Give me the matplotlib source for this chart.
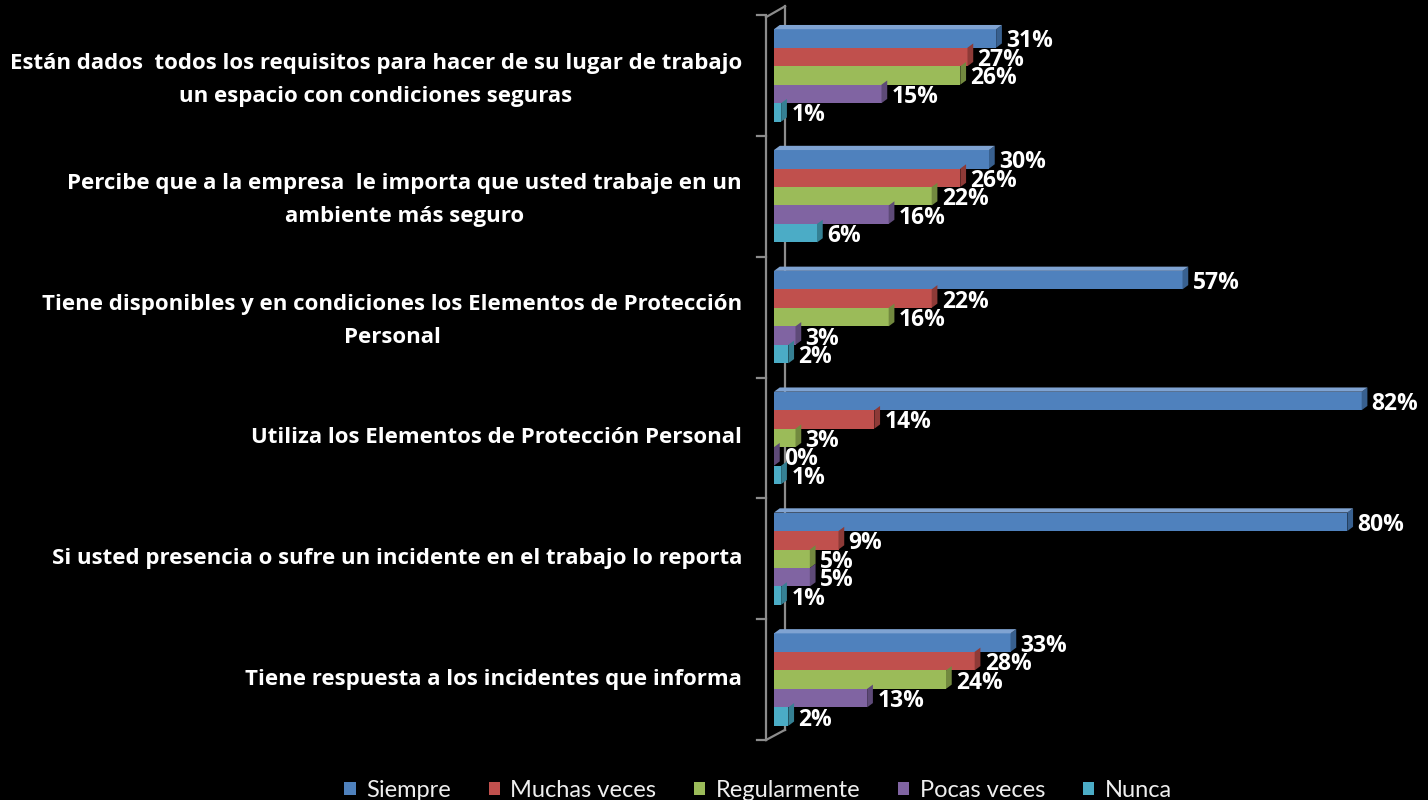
import numpy as np
import matplotlib.pyplot as plt
from matplotlib.patches import Polygon, Patch
import matplotlib.transforms as mtransforms

plt.rcParams['font.family'] = ['Open Sans', 'DejaVu Sans']

categories = [
    "Están dados  todos los requisitos para hacer de su lugar de trabajo\nun espacio con condiciones seguras",
    "Percibe que a la empresa  le importa que usted trabaje en un\nambiente más seguro",
    "Tiene disponibles y en condiciones los Elementos de Protección\nPersonal",
    "Utiliza los Elementos de Protección Personal",
    "Si usted presencia o sufre un incidente en el trabajo lo reporta",
    "Tiene respuesta a los incidentes que informa",
]
series = ["Siempre", "Muchas veces", "Regularmente", "Pocas veces", "Nunca"]
siempre = [31, 30, 57, 82, 80, 33]
muchas = [27, 26, 22, 14, 9, 28]
regular = [26, 22, 16, 3, 5, 24]
pocas = [15, 16, 3, 0, 5, 13]
nunca = [1, 6, 2, 1, 1, 2]
values = [siempre, muchas, regular, pocas, nunca]

colors = ['#4F81BD', '#C0504D', '#9BBB59', '#8064A2', '#4BACC6']
sides = ['#38608F', '#8E3A37', '#72893F', '#5E4A78', '#358093']
tops = ['#7FA3D2', '#D6827F', '#B9D287', '#A38DBF', '#7FC6D9']

fig = plt.figure(figsize=(14.28, 8), dpi=100, facecolor='black')
ax = fig.add_axes([774 / 1428, 60 / 800, 645 / 1428, 725 / 800])
ax.set_facecolor('black')
ax.set_xlim(0, 90)
ax.set_ylim(5.5, -0.5)
ax.axis('off')

h = 0.153
dx = 0.8
dy = 0.035
for j, vals in enumerate(values):
    for i, v in enumerate(vals):
        yc = i + (j - 2) * h
        ytop = yc - h / 2
        ybot = yc + h / 2
        ax.barh(yc, v, height=h, color=colors[j], edgecolor='none', zorder=2)
        # right face
        ax.add_patch(Polygon([(v, ytop), (v, ybot), (v + dx, ybot - dy), (v + dx, ytop - dy)],
                             closed=True, facecolor=sides[j], edgecolor='none', zorder=3))
        if j == 0:
            ax.add_patch(Polygon([(0, ytop), (v, ytop), (v + dx, ytop - dy), (dx, ytop - dy)],
                                 closed=True, facecolor=tops[j], edgecolor='none', zorder=3))
        ax.text(v + dx + 0.6, yc + 0.025, f"{v}%", color='white', fontsize=16.5,
                fontweight='bold', va='center', ha='left', zorder=5)

# wall lines
trans = mtransforms.blended_transform_factory(ax.transAxes, ax.transAxes)
grey = '#8C8C8C'
x_front = -8 / 645
x_back = 11 / 645
ax.plot([x_front, x_front], [0.0, 0.997], color=grey, lw=1.6, transform=trans, clip_on=False)
ax.plot([x_back, x_back], [0.014, 1.012], color=grey, lw=1.6, transform=trans, clip_on=False, zorder=1)
ax.plot([x_front, x_back], [0.997, 1.012], color=grey, lw=1.6, transform=trans, clip_on=False)
ax.plot([x_front, x_back], [0.0, 0.014], color=grey, lw=1.6, transform=trans, clip_on=False)
for k in range(7):
    yf = k / 6
    ax.plot([x_front - 9 / 645, x_front], [yf, yf], color=grey, lw=1.6, transform=trans, clip_on=False)

lab_trans = mtransforms.blended_transform_factory(ax.transAxes, ax.transData)
for i, c in enumerate(categories):
    off = 0.035 if '\n' in c else 0.0
    ax.text(-32 / 645, i + off, c, transform=lab_trans, ha='right', va='center', multialignment='center',
            color='white', fontsize=16, fontweight='bold', linespacing=1.75)

handles = [Patch(facecolor=colors[j], edgecolor='none') for j in range(5)]
leg = fig.legend(handles, series, loc='lower center', bbox_to_anchor=(0.531, -0.028), ncol=5,
                 frameon=False, prop={'family': 'Lato', 'size': 17}, handlelength=0.47, handleheight=0.47,
                 handletextpad=0.45, columnspacing=1.6, labelcolor='#EEEEEE')

fig.savefig('out.png', dpi=100, facecolor='black')
